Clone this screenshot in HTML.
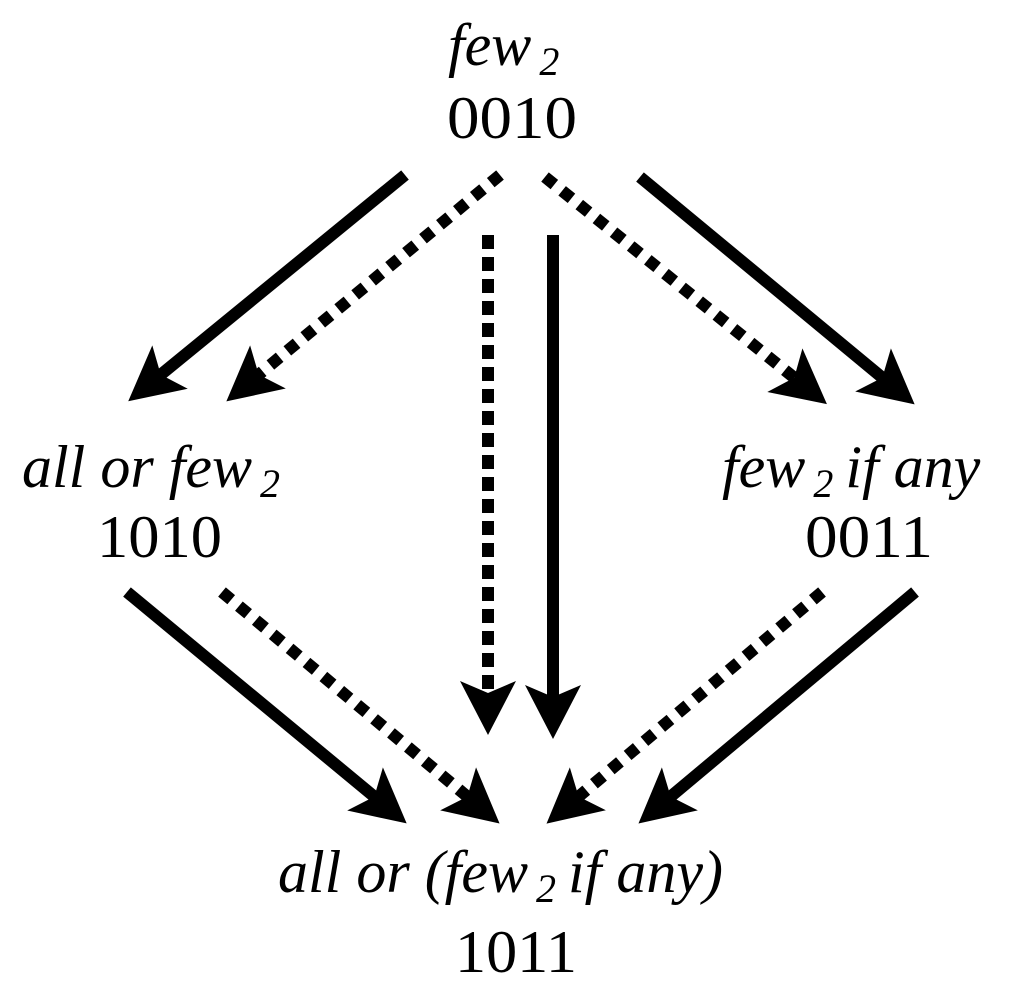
<!DOCTYPE html>
<html><head><style>html,body{margin:0;padding:0;background:#fff;}svg{display:block;}</style></head>
<body>
<svg width="1033" height="1000" viewBox="0 0 1033 1000" xmlns="http://www.w3.org/2000/svg">
<defs>
<marker id="a" markerUnits="userSpaceOnUse" markerWidth="100" markerHeight="100" refX="50" refY="50" orient="auto" viewBox="0 0 100 100">
<path d="M82,50 L28,22 L40,50 L28,78 Z" fill="#000"/>
</marker>
</defs>
<g stroke="#000" stroke-width="12" fill="none" marker-end="url(#a)">
<line x1="405" y1="175" x2="153" y2="381"/>
<line x1="500" y1="175" x2="251" y2="381" stroke-dasharray="12 10"/>
<line x1="488" y1="235" x2="488" y2="703" stroke-dasharray="14 8"/>
<line x1="553" y1="235" x2="553" y2="707"/>
<line x1="545" y1="177" x2="802" y2="384" stroke-dasharray="12 10"/>
<line x1="640" y1="177" x2="890" y2="384"/>
<line x1="127" y1="592" x2="382" y2="803"/>
<line x1="222" y1="592" x2="475" y2="803" stroke-dasharray="12 10"/>
<line x1="822" y1="592" x2="571" y2="803" stroke-dasharray="12 10"/>
<line x1="915" y1="592" x2="663" y2="803"/>
</g>
<g style="font-family:'Liberation Serif','Noto Serif CJK SC','DejaVu Serif',serif;font-size:60px" fill="#000">
<text x="448" y="65" font-style="italic">few<tspan font-size="40" dy="10" dx="8">2</tspan></text>
<text x="447" y="138" textLength="130" lengthAdjust="spacingAndGlyphs">0010</text>
<text x="22" y="487" font-style="italic">all or few<tspan font-size="40" dy="10" dx="8">2</tspan></text>
<text x="97" y="557" textLength="125" lengthAdjust="spacingAndGlyphs">1010</text>
<text x="722" y="487" font-style="italic">few<tspan font-size="40" dy="10" dx="8">2</tspan><tspan dy="-10" dx="12">if any</tspan></text>
<text x="805" y="557" textLength="128" lengthAdjust="spacingAndGlyphs">0011</text>
<text x="278" y="892" font-style="italic">all or (few<tspan font-size="40" dy="10" dx="8">2</tspan><tspan dy="-10" dx="12">if any)</tspan></text>
<text x="455" y="972" textLength="122" lengthAdjust="spacingAndGlyphs">1011</text>
</g>
</svg>
</body></html>
